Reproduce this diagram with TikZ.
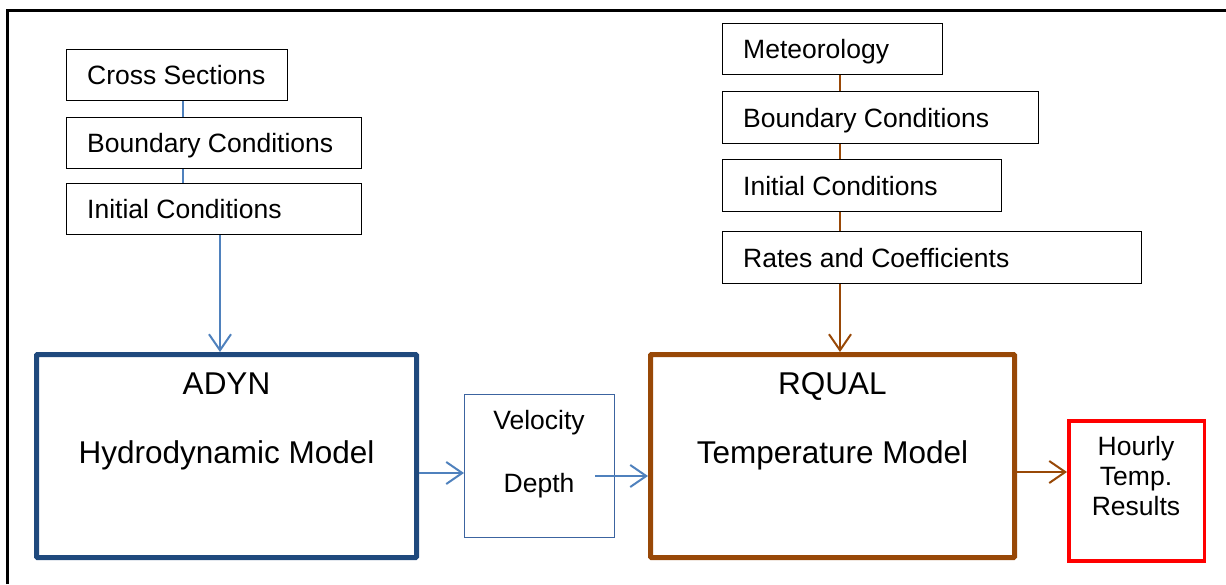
\documentclass[tikz,border=0pt]{standalone}
\usepackage{fontspec}
\setmainfont{Liberation Sans}
\usetikzlibrary{arrows.meta}
\definecolor{dkblue}{HTML}{1F497D}
\definecolor{ltblue}{HTML}{4F81BD}
\definecolor{velblue}{HTML}{3C64A0}
\definecolor{brownc}{HTML}{984807}
\definecolor{redc}{HTML}{FF0000}
\tikzset{
  smallbox/.style={draw=black, line width=1.2pt, anchor=north west, minimum height=51pt, inner sep=0pt},
  boxtext/.style={font=\fontsize{26.5}{30}\selectfont, inner sep=0pt, text height=19pt, text depth=0pt, anchor=west},
  bigbox/.style={line width=5pt, anchor=north west, inner sep=0pt, rounded corners=1pt},
  bigtext/.style={font=\fontsize{31.5}{36}\selectfont, inner sep=0pt, anchor=base},
  midtext/.style={font=\fontsize{26.5}{30}\selectfont, inner sep=0pt, anchor=base},
  bconn/.style={draw=ltblue, line width=1.5pt},
  rconn/.style={draw=brownc, line width=1.5pt},
  barb/.style={-{Straight Barb[length=16pt,width=22pt,line width=2pt]}, line width=2pt},
}
\begin{document}
\begin{tikzpicture}[x=1pt,y=-1pt]
\useasboundingbox (0,0) rectangle (1226,584);
% outer frame (only left and top edges visible)
\draw[line width=3pt, line join=miter] (7,584) -- (7,10.5) -- (1226,10.5);

% left input stack
\node[smallbox, minimum width=221pt] (cs) at (66,49) {};
\node[boxtext] (cst) at ([xshift=21pt]cs.west) {Cross Sections};
\node[smallbox, minimum width=295pt] (bc) at (66,117) {};
\node[boxtext] (bct) at ([xshift=21pt]bc.west) {Boundary Conditions};
\node[smallbox, minimum width=295pt] (ic) at (66,183) {};
\node[boxtext] (ict) at ([xshift=21pt]ic.west) {Initial Conditions};

% right input stack
\node[smallbox, minimum width=220pt] (met) at (722,23) {};
\node[boxtext] (mett) at ([xshift=21pt]met.west) {Meteorology};
\node[smallbox, minimum width=316pt, minimum height=52pt] (rbc) at (722,91) {};
\node[boxtext] (rbct) at ([xshift=21pt]rbc.west) {Boundary Conditions};
\node[smallbox, minimum width=279pt, minimum height=52pt] (ric) at (722,159) {};
\node[boxtext] (rict) at ([xshift=21pt]ric.west) {Initial Conditions};
\node[smallbox, minimum width=419pt, minimum height=52pt] (rc) at (722,231) {};
\node[boxtext] (rct) at ([xshift=21pt]rc.west) {Rates and Coefficients};

% models
\node[bigbox, draw=dkblue, minimum width=380pt, minimum height=203pt] (adyn) at (34,352) {};
\node[bigtext] (adynt) at (226.5,394) {ADYN};
\node[bigtext] (adyns) at (226.5,463) {Hydrodynamic Model};

\node[bigbox, draw=brownc, minimum width=364pt, minimum height=203pt] (rqual) at (648,352) {};
\node[bigtext] (rqualt) at (832.5,394) {RQUAL};
\node[bigtext] (rquals) at (832.5,463) {Temperature Model};

% velocity / depth
\node[draw=velblue, line width=1.3pt, anchor=north west, inner sep=0pt, minimum width=150pt, minimum height=143pt] (vel) at (464,394) {};
\node[midtext] (velt) at (539,429) {Velocity};
\node[midtext] (dept) at (539,492) {Depth};

% results
\node[draw=redc, line width=3.5pt, anchor=north west, inner sep=0pt, minimum width=135.5pt, minimum height=140pt] (hour) at (1067,419) {};
\node[font=\fontsize{26.5}{30}\selectfont, align=center, inner sep=0pt] (hourt) at (1136,476) {Hourly\\Temp.\\Results};

% helper coordinates
\coordinate (lx) at (183,0);
\coordinate (ax) at (220,0);
\coordinate (rx) at (840,0);
\coordinate (y1) at (0,473);
\coordinate (vtail) at (595,476);
\coordinate (y3) at (0,472);

% connectors
\draw[bconn] (cs.south -| lx) -- (bc.north -| lx);
\draw[bconn] (bc.south -| lx) -- (ic.north -| lx);
\draw[bconn, barb, draw=ltblue] (ic.south -| ax) -- (adyn.north -| ax);

\draw[rconn] (met.south -| rx) -- (rbc.north -| rx);
\draw[rconn] (rbc.south -| rx) -- (ric.north -| rx);
\draw[rconn] (ric.south -| rx) -- (rc.north -| rx);
\draw[rconn, barb, draw=brownc] (rc.south -| rx) -- (rqual.north -| rx);

\draw[barb, draw=ltblue] (adyn.east |- y1) -- (vel.west |- y1);
\draw[barb, draw=ltblue] (vtail) -- (rqual.west |- vtail);
\draw[barb, draw=brownc] (rqual.east |- y3) -- (hour.west |- y3);
\end{tikzpicture}
\end{document}
